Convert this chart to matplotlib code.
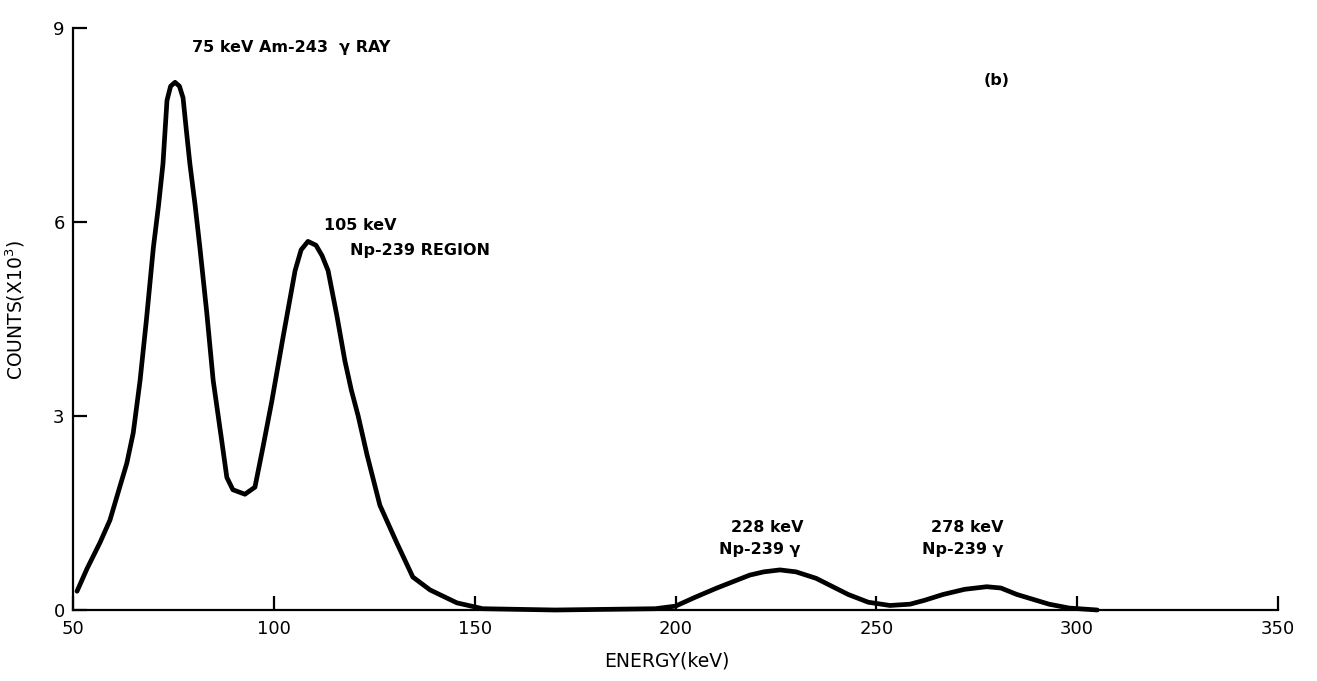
import numpy as np
import matplotlib
matplotlib.use("Agg")
import matplotlib.pyplot as plt

# spectrum (energy in keV, counts in units of 10^3)
energy_kev = [51, 53.5, 56.7, 59.2, 61.2, 63.4, 65, 66.7, 68.3, 70, 71.3, 72.4,
              73.4, 74.3, 75.4, 76.5, 77.4, 78.2, 79.1, 80.4, 81.6, 83.3, 84.9,
              87, 88.3, 89.8, 92.8, 95.3, 97.3, 99.5, 102.3, 105.3, 106.8, 108.5,
              110.5, 112, 113.5, 115.7, 117.7, 119.3, 121, 123.2, 126.4, 130.6,
              134.6, 138.9, 145.6, 152, 170, 195, 200, 205, 210.3, 218.5, 222,
              226, 230, 235, 243, 248, 253.4, 258.4, 262, 266.6, 272, 277.5,
              281, 285, 293, 298, 305]
counts_k = [0.29, 0.64, 1.04, 1.39, 1.81, 2.27, 2.74, 3.55, 4.5, 5.6, 6.26, 6.9,
            7.88, 8.1, 8.16, 8.1, 7.92, 7.43, 6.9, 6.26, 5.6, 4.6, 3.55,
            2.63, 2.05, 1.86, 1.79, 1.9, 2.52, 3.23, 4.22, 5.25, 5.57, 5.7,
            5.64, 5.48, 5.25, 4.55, 3.85, 3.4, 3.0, 2.4, 1.62, 1.04,
            0.51, 0.31, 0.11, 0.02, 0.0, 0.02, 0.06, 0.2, 0.34, 0.54, 0.59,
            0.62, 0.59, 0.49, 0.24, 0.12, 0.07, 0.09, 0.15, 0.24, 0.32, 0.36,
            0.34, 0.24, 0.09, 0.03, 0.0]

x_ticks = [50, 100, 150, 200, 250, 300, 350]
y_ticks = [0, 3, 6, 9]

# (text, x, y, horizontal alignment)
annotations = [
    ("75 keV Am-243  \u03b3 RAY", 79.6, 8.7, "left"),
    ("105 keV", 112.5, 5.94, "left"),
    ("Np-239 REGION", 119, 5.56, "left"),
    ("228 keV", 222.8, 1.27, "center"),
    ("Np-239 \u03b3", 221, 0.93, "center"),
    ("278 keV", 272.6, 1.27, "center"),
    ("Np-239 \u03b3", 271.6, 0.93, "center"),
    ("(b)", 280, 8.19, "center"),
]

fig = plt.figure(figsize=(13.17, 6.81), dpi=100)
ax = fig.add_axes([73/1317, 71/681, 1205/1317, 582/681])

ax.plot(energy_kev, counts_k, color="black", lw=3.4,
        solid_joinstyle="round", solid_capstyle="round", clip_on=False)

ax.set_xlim(50, 350)
ax.set_ylim(0, 9)
ax.set_xticks(x_ticks)
ax.set_yticks(y_ticks)
ax.tick_params(direction="in", length=10, width=1.6, labelsize=13)
ax.tick_params(axis="x", pad=7)
ax.tick_params(axis="y", pad=6)

for side in ("top", "right"):
    ax.spines[side].set_visible(False)
for side in ("left", "bottom"):
    ax.spines[side].set_linewidth(1.6)

ax.set_xlabel("ENERGY(keV)", fontsize=13.5, va="center")
ax.set_ylabel("COUNTS(X10$^3$)", fontsize=13.5)
ax.xaxis.set_label_coords(0.493, -0.088)
ax.yaxis.set_label_coords(-0.038, 0.515)

for text, x, y, ha in annotations:
    ax.text(x, y, text, ha=ha, va="center", fontsize=11.5, fontweight="bold")

fig.savefig("out.png", dpi=100)
